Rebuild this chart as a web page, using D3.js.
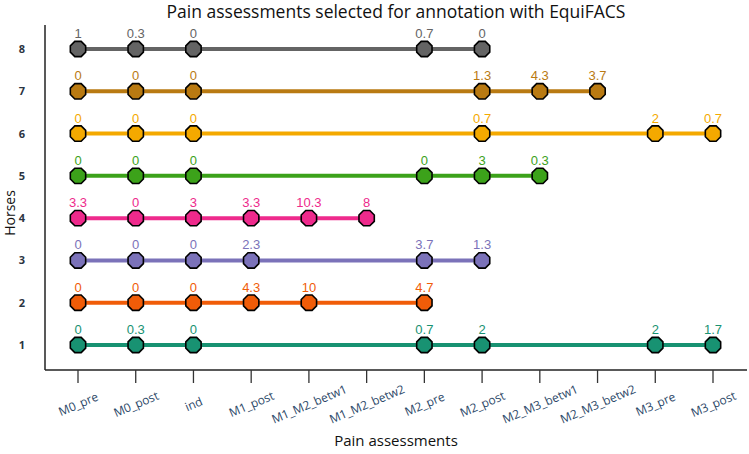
<!DOCTYPE html>
<html>
<head>
<meta charset="utf-8">
<script src="https://cdn.jsdelivr.net/npm/d3@7"></script>
<style>
  body { margin: 0; background: #fff; }
  svg { display: block; }
</style>
</head>
<body>
<script>
const assessments = ['M0_pre', 'M0_post', 'ind', 'M1_post', 'M1_M2_betw1', 'M1_M2_betw2',
  'M2_pre', 'M2_post', 'M2_M3_betw1', 'M2_M3_betw2', 'M3_pre', 'M3_post'];
const horses = [1, 2, 3, 4, 5, 6, 7, 8];

// one value per assessment, null = not selected
const horse1 = [0, 0.3, 0, null, null, null, 0.7, 2, null, null, 2, 1.7];
const horse2 = [0, 0, 0, 4.3, 10, null, 4.7, null, null, null, null, null];
const horse3 = [0, 0, 0, 2.3, null, null, 3.7, 1.3, null, null, null, null];
const horse4 = [3.3, 0, 3, 3.3, 10.3, 8, null, null, null, null, null, null];
const horse5 = [0, 0, 0, null, null, null, 0, 3, 0.3, null, null, null];
const horse6 = [0, 0, 0, null, null, null, null, 0.7, null, null, 2, 0.7];
const horse7 = [0, 0, 0, null, null, null, null, 1.3, 4.3, 3.7, null, null];
const horse8 = [1, 0.3, 0, null, null, null, 0.7, 0, null, null, null, null];

const horseValues = [horse1, horse2, horse3, horse4, horse5, horse6, horse7, horse8];
const horseColors = ['#189272', '#f05c08', '#7b72b9', '#ee2a8c', '#3ca21a', '#f4a900', '#b97a12', '#646464'];

const width = 749, height = 454;

const svg = d3.select('body').append('svg')
  .attr('width', width)
  .attr('height', height);

const x = d3.scalePoint()
  .domain(assessments)
  .range([78, 713]);

const y = d3.scaleLinear()
  .domain([1, 8])
  .range([345, 49]);

// axis lines
svg.append('line')
  .attr('x1', 45).attr('x2', 45)
  .attr('y1', 25).attr('y2', 370)
  .attr('stroke', '#222').attr('stroke-width', 1.5);

svg.append('line')
  .attr('x1', 45).attr('x2', 747)
  .attr('y1', 370).attr('y2', 370)
  .attr('stroke', '#222').attr('stroke-width', 1.5);

// x ticks
const xTicks = svg.selectAll('.xtick')
  .data(assessments)
  .enter()
  .append('g')
  .attr('class', 'xtick')
  .attr('transform', d => `translate(${x(d)},370)`);

xTicks.append('line')
  .attr('y1', 0).attr('y2', 13)
  .attr('stroke', '#333').attr('stroke-width', 1.3);

xTicks.append('text')
  .attr('transform', 'translate(2,38) rotate(-23)')
  .attr('text-anchor', 'middle')
  .attr('font-family', 'Open Sans, sans-serif')
  .attr('font-size', 12)
  .attr('fill', '#2c4868')
  .text(d => d);

// y tick labels
svg.selectAll('.ytick')
  .data(horses)
  .enter()
  .append('text')
  .attr('class', 'ytick')
  .attr('x', 22)
  .attr('y', d => y(d) + 4)
  .attr('text-anchor', 'middle')
  .attr('font-family', 'Open Sans, sans-serif')
  .attr('font-weight', 'bold')
  .attr('font-size', 11)
  .attr('fill', '#2b3442')
  .text(d => d);

// titles
svg.append('text')
  .attr('x', 396).attr('y', 18)
  .attr('text-anchor', 'middle')
  .attr('font-family', 'Open Sans, sans-serif')
  .attr('font-size', 17.5)
  .attr('fill', '#111')
  .text('Pain assessments selected for annotation with EquiFACS');

svg.append('text')
  .attr('x', 396).attr('y', 446)
  .attr('text-anchor', 'middle')
  .attr('font-family', 'Open Sans, sans-serif')
  .attr('font-size', 15)
  .attr('fill', '#111')
  .text('Pain assessments');

svg.append('text')
  .attr('transform', 'translate(15,213) rotate(-90)')
  .attr('text-anchor', 'middle')
  .attr('font-family', 'Open Sans, sans-serif')
  .attr('font-size', 14)
  .attr('fill', '#111')
  .text('Horses');

// octagon marker
const octR = 8.3;
const octagon = d3.range(8).map(i => {
  const a = Math.PI / 8 + i * Math.PI / 4;
  return [octR * Math.cos(a), octR * Math.sin(a)];
});
const octPath = 'M' + octagon.map(p => p.join(',')).join('L') + 'Z';

const line = d3.line()
  .x(d => x(d.assessment))
  .y(d => y(d.horse));

horses.forEach((h, i) => {
  const pts = horseValues[i]
    .map((v, j) => ({ assessment: assessments[j], value: v, horse: h }))
    .filter(d => d.value !== null);
  const color = horseColors[i];

  svg.append('path')
    .datum(pts)
    .attr('d', line)
    .attr('fill', 'none')
    .attr('stroke', color)
    .attr('stroke-width', 4);

  svg.selectAll('.pt' + h)
    .data(pts)
    .enter()
    .append('path')
    .attr('class', 'pt' + h)
    .attr('d', octPath)
    .attr('transform', d => `translate(${x(d.assessment)},${y(d.horse)})`)
    .attr('fill', color)
    .attr('stroke', '#000')
    .attr('stroke-width', 1.6);

  svg.selectAll('.lbl' + h)
    .data(pts)
    .enter()
    .append('text')
    .attr('class', 'lbl' + h)
    .attr('x', d => x(d.assessment))
    .attr('y', d => y(d.horse) - 11)
    .attr('text-anchor', 'middle')
    .attr('font-family', 'Liberation Sans, Arial, sans-serif')
    .attr('font-size', 13)
    .attr('fill', color)
    .text(d => d.value);
});
</script>
</body>
</html>
